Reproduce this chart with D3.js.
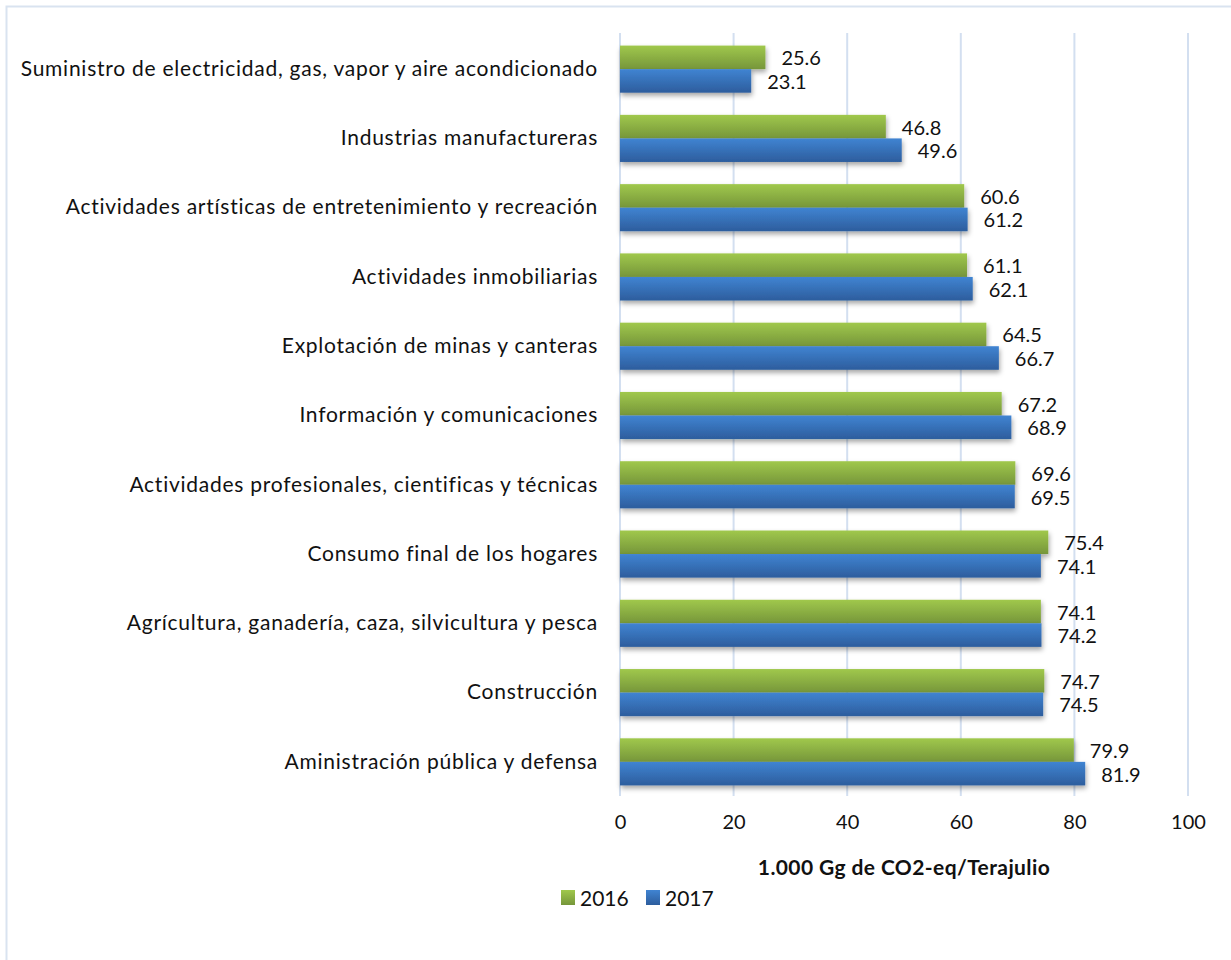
<!DOCTYPE html>
<html>
<head>
<meta charset="utf-8">
<script src="https://cdn.jsdelivr.net/npm/d3@7"></script>
<style>
  html, body { margin: 0; padding: 0; background: #fff; }
  svg { display: block; }
  text { font-family: Lato, "Open Sans", sans-serif; fill: #111; }
</style>
</head>
<body>
<svg id="chart" width="1231" height="960"></svg>
<script>
// Sector categories, listed top to bottom
const categories = [
  "Suministro de electricidad, gas, vapor y aire acondicionado",
  "Industrias manufactureras",
  "Actividades artísticas de entretenimiento y recreación",
  "Actividades inmobiliarias",
  "Explotación de minas y canteras",
  "Información y comunicaciones",
  "Actividades profesionales, cientificas y técnicas",
  "Consumo final de los hogares",
  "Agrícultura, ganadería, caza, silvicultura y pesca",
  "Construcción",
  "Aministración pública y defensa"
];
const values2016 = [25.6, 46.8, 60.6, 61.1, 64.5, 67.2, 69.6, 75.4, 74.1, 74.7, 79.9];
const values2017 = [23.1, 49.6, 61.2, 62.1, 66.7, 68.9, 69.5, 74.1, 74.2, 74.5, 81.9];
const seriesNames = ["2016", "2017"];
const xTicks = [0, 20, 40, 60, 80, 100];
const axisTitle = "1.000 Gg de CO2-eq/Terajulio";

const svg = d3.select("#chart");
const defs = svg.append("defs");

// Vertical gradients for the two series
const grads = [
  { id: "g2016", top: "#a0c84c", bottom: "#76963a" },
  { id: "g2017", top: "#4084d2", bottom: "#2d5d9d" }
];
grads.forEach(g => {
  const lg = defs.append("linearGradient")
    .attr("id", g.id).attr("x1", 0).attr("y1", 0).attr("x2", 0).attr("y2", 1);
  lg.append("stop").attr("offset", "0%").attr("stop-color", g.top);
  lg.append("stop").attr("offset", "100%").attr("stop-color", g.bottom);
});

// Soft shadow under the bars
const f = defs.append("filter").attr("id", "shadow")
  .attr("x", "-5%").attr("y", "-20%").attr("width", "115%").attr("height", "160%");
f.append("feDropShadow").attr("dx", 1).attr("dy", 3)
  .attr("stdDeviation", 2.5).attr("flood-color", "#000").attr("flood-opacity", 0.35);

// Outer frame
svg.append("rect")
  .attr("x", 6.5).attr("y", 6.5).attr("width", 1240).attr("height", 970)
  .attr("fill", "none").attr("stroke", "#d9e3f0").attr("stroke-width", 2);

const x = d3.scaleLinear().domain([0, 100]).range([620, 1188]);
const y = d3.scaleBand().domain(categories).range([34.5, 796.5])
  .paddingInner(0.32).paddingOuter(0.16);
const ySub = d3.scaleBand().domain(seriesNames).range([0, y.bandwidth()]);

// Vertical gridlines
svg.append("g").selectAll("line").data(xTicks).join("line")
  .attr("x1", d => x(d)).attr("x2", d => x(d))
  .attr("y1", 33).attr("y2", 796)
  .attr("stroke", "#d3dff0").attr("stroke-width", 2);

// X axis tick labels
const xAxis = d3.axisBottom(x).tickValues(xTicks).tickSize(0).tickPadding(0);
const gx = svg.append("g").attr("transform", "translate(0,815)").call(xAxis);
gx.select(".domain").remove();
gx.selectAll("text")
  .style("font-family", "Lato, sans-serif")
  .style("font-size", "20px").attr("fill", "#111").attr("dy", "0.71em");

// Axis title
svg.append("text")
  .attr("x", (x(0) + x(100)) / 2).attr("y", 866)
  .attr("text-anchor", "middle").attr("dominant-baseline", "central")
  .style("font-size", "21px").style("font-weight", "bold")
  .style("letter-spacing", "0.4px")
  .text(axisTitle);

// Category labels
const yAxis = d3.axisLeft(y).tickSize(0).tickPadding(0);
const gy = svg.append("g").attr("transform", "translate(598,0)").call(yAxis);
gy.select(".domain").remove();
gy.selectAll("text")
  .style("font-family", "Lato, sans-serif")
  .style("font-size", "21px").style("letter-spacing", "0.75px")
  .attr("fill", "#111");

// Bars and value labels
const rows = categories.map((c, i) => ({ cat: c, vals: [values2016[i], values2017[i]] }));
const groups = svg.append("g").selectAll("g").data(rows).join("g")
  .attr("transform", d => `translate(0,${y(d.cat)})`);

groups.selectAll("rect").data(d => d.vals.map((v, j) => ({ v, s: seriesNames[j] })))
  .join("rect")
  .attr("x", x(0))
  .attr("y", d => ySub(d.s))
  .attr("width", d => x(d.v) - x(0))
  .attr("height", ySub.bandwidth())
  .attr("fill", d => d.s === "2016" ? "url(#g2016)" : "url(#g2017)")
  .attr("filter", "url(#shadow)");

groups.selectAll("text.val").data(d => d.vals.map((v, j) => ({ v, s: seriesNames[j] })))
  .join("text").attr("class", "val")
  .attr("x", d => x(d.v) + 16)
  .attr("y", d => ySub(d.s) + ySub.bandwidth() / 2)
  .attr("dominant-baseline", "central")
  .style("font-size", "20px")
  .text(d => d3.format(".1f")(d.v));

// Legend
const legend = svg.append("g").attr("transform", "translate(561,890)");
const legItems = [
  { name: "2016", fill: "url(#g2016)", dx: 0 },
  { name: "2017", fill: "url(#g2017)", dx: 85 }
];
const li = legend.selectAll("g").data(legItems).join("g")
  .attr("transform", d => `translate(${d.dx},0)`);
li.append("rect").attr("width", 14).attr("height", 15).attr("fill", d => d.fill);
li.append("text").attr("x", 19).attr("y", 7.5).attr("dominant-baseline", "central")
  .style("font-size", "21px").text(d => d.name);
</script>
</body>
</html>
